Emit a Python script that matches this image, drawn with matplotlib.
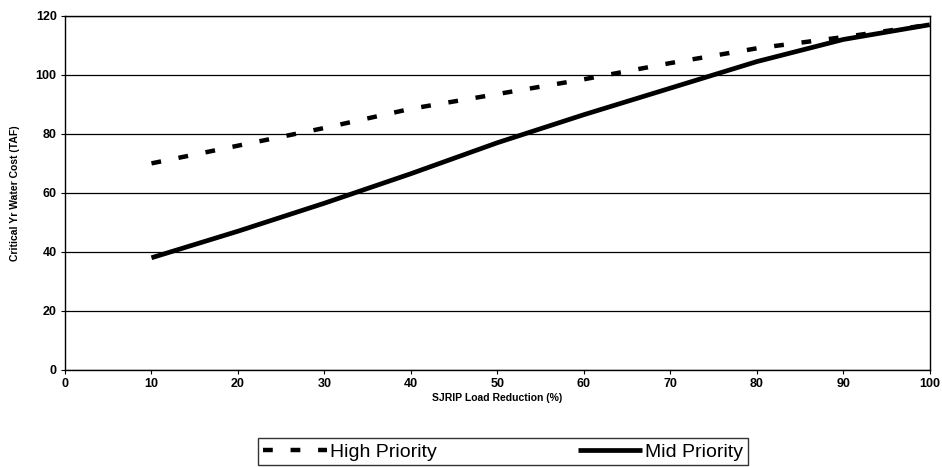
import matplotlib
matplotlib.use("Agg")

import matplotlib.pyplot as plt

plt.rcParams['font.family'] = ['Liberation Sans', 'DejaVu Sans']

# Load reduction (%) and critical-year water cost (TAF)
load_reduction = [10, 20, 30, 40, 50, 60, 70, 80, 90, 100]
high_priority = [70, 76, 82, 88.5, 93.5, 98.5, 104, 109, 112.8, 117]
mid_priority = [38, 47, 56.5, 66.5, 77, 86.5, 95.5, 104.5, 112, 117]

x_ticks = [0, 10, 20, 30, 40, 50, 60, 70, 80, 90, 100]
y_ticks = [0, 20, 40, 60, 80, 100, 120]

fig = plt.figure(figsize=(9.42, 4.67), dpi=100)
ax = fig.add_axes([0.069, 0.208, 0.918, 0.758])

ax.plot(load_reduction, high_priority, color="black", linewidth=3.2,
        dashes=(2.2, 4.0), dash_capstyle="butt", label="High Priority")
ax.plot(load_reduction, mid_priority, color="black", linewidth=3.4,
        solid_capstyle="butt", label="Mid Priority")

ax.set_xlim(0, 100)
ax.set_ylim(0, 120)
ax.set_xticks(x_ticks)
ax.set_yticks(y_ticks)
ax.grid(axis="y", color="black", linewidth=0.9)
ax.set_axisbelow(True)

for lbl in ax.get_xticklabels() + ax.get_yticklabels():
    lbl.set_fontweight("bold")
    lbl.set_fontsize(9)
ax.tick_params(direction="out", length=3, width=0.8, pad=3)

for s in ax.spines.values():
    s.set_linewidth(1.0)
    s.set_color("black")

ax.set_xlabel("SJRIP Load Reduction (%)", fontsize=7.5, fontweight="bold", labelpad=2)
ax.set_ylabel("Critical Yr Water Cost (TAF)", fontsize=7.5, fontweight="bold", labelpad=11)

leg = fig.legend(loc="upper left", bbox_to_anchor=(0.274, 0.062, 0.52, 0),
                 mode="expand", ncol=2, fontsize=14, frameon=True, fancybox=False,
                 edgecolor="black", handlelength=3.3, handletextpad=0.15,
                 borderaxespad=0, borderpad=0.25)
leg.get_frame().set_linewidth(1.0)

plt.savefig("out.png", dpi=100)
